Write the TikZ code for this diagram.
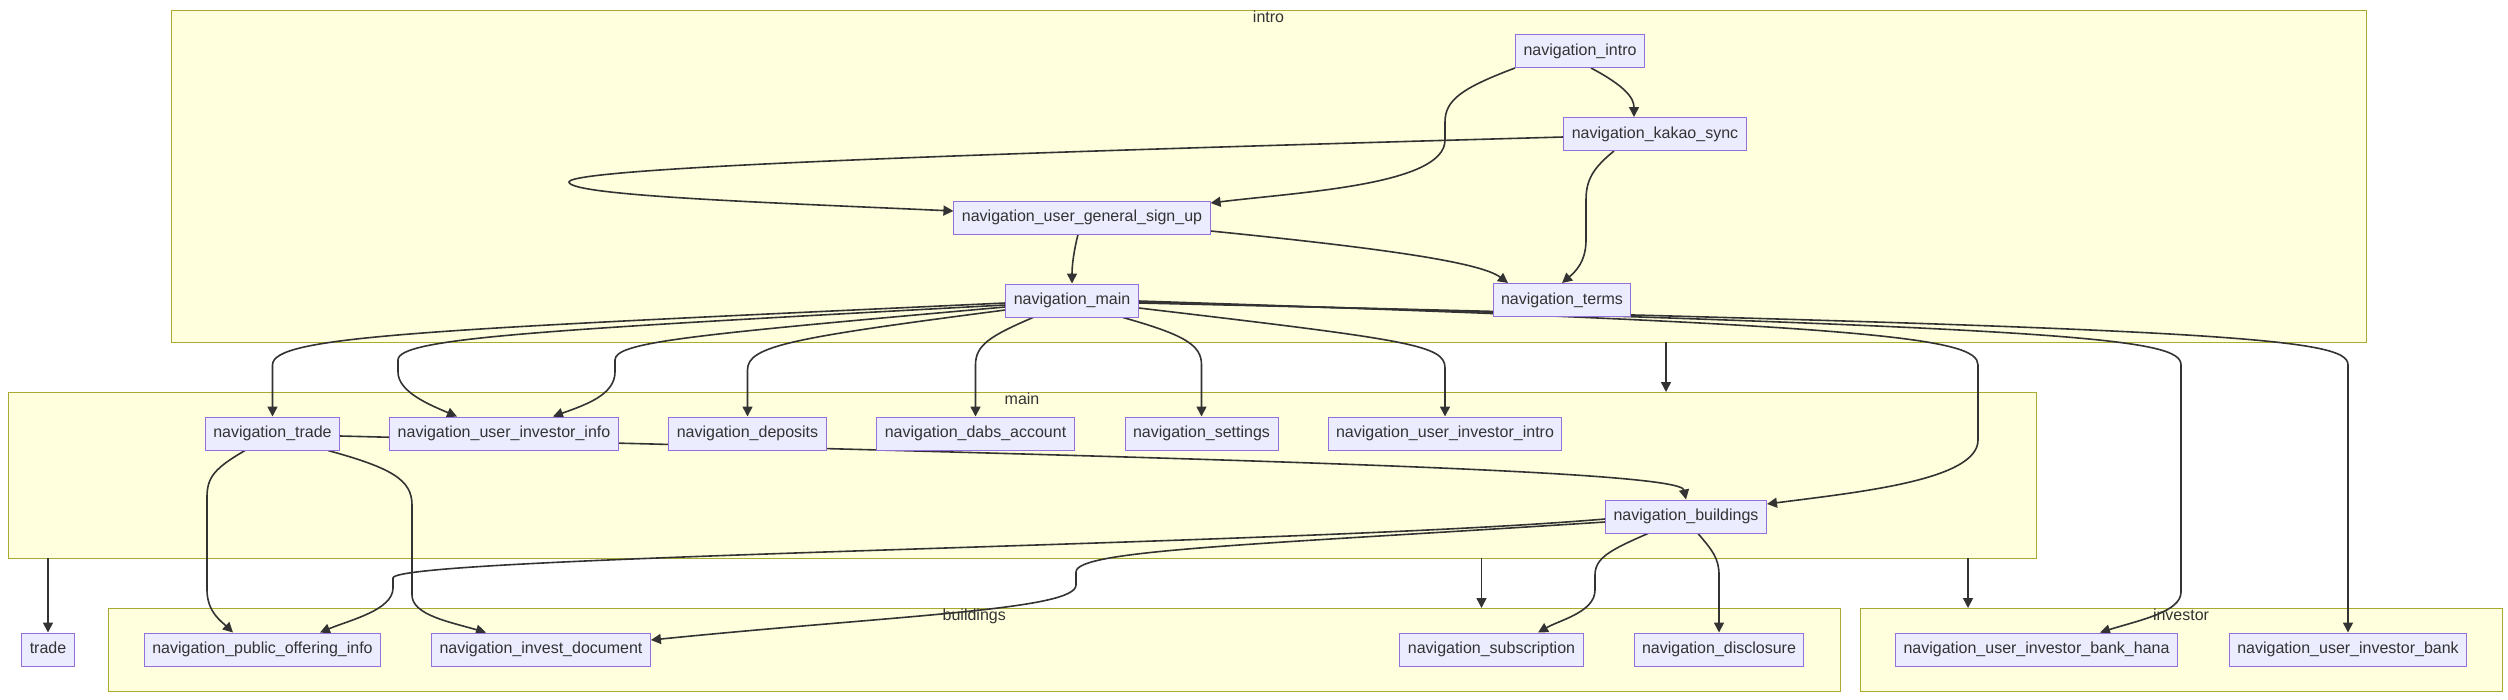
\documentclass[tikz,border=0pt]{standalone}
\usepackage{fontspec}
\setmainfont{Liberation Sans}
\usetikzlibrary{arrows.meta, calc}
\definecolor{ink}{HTML}{333333}
\definecolor{navfill}{HTML}{ECECFF}
\definecolor{navline}{HTML}{9370DB}
\definecolor{clusterfill}{HTML}{FFFFDE}
\definecolor{clusterline}{HTML}{AAAA33}
\pgfdeclarelayer{bg}
\pgfdeclarelayer{edges}
\pgfsetlayers{bg,edges,main}

\begin{document}
\begin{tikzpicture}[x=1pt, y=-1pt,
    navbox/.style={draw=navline, fill=navfill, line width=1pt, text=ink, font=\fontsize{16}{19}\selectfont,
      inner xsep=8pt, inner ysep=0pt, minimum height=33pt, text height=11.5pt, text depth=3.5pt},
    cluster/.style={draw=clusterline, fill=clusterfill, line width=1pt, inner sep=0pt, outer sep=0pt},
    clusterlabel/.style={anchor=base, text=ink, font=\fontsize{16}{19}\selectfont, inner sep=0pt},
    link/.style={draw=ink, line width=1.6pt, -{Triangle[length=10pt, width=10pt]}}]
  \useasboundingbox (0,0) rectangle (2508,699);
  \begin{pgfonlayer}{bg}
    \fill[white] (0,0) rectangle (2508,699);
    \node[cluster, minimum width=2195pt, minimum height=332pt] (introbox) at (1268.5,176) {};
    \node[cluster, minimum width=2028pt, minimum height=166pt] (mainbox) at (1022,475) {};
    \node[cluster, minimum width=1731.5pt, minimum height=83pt] (buildingsbox) at (974.25,649.5) {};
    \node[cluster, minimum width=642pt, minimum height=83pt] (investorbox) at (2181,649.5) {};
    \node[clusterlabel] (introlabel) at (1268.5,22) {intro};
    \node[clusterlabel] (mainlabel) at (1022,404) {main};
    \node[clusterlabel] (buildingslabel) at (974.25,620) {buildings};
    \node[clusterlabel] (investorlabel) at (2181,620) {investor};
  \end{pgfonlayer}

  \node[navbox] (intro) at (1580,51) {navigation\_intro};
  \node[navbox] (kakaosync) at (1655,134) {navigation\_kakao\_sync};
  \node[navbox] (signup) at (1082,217.5) {navigation\_user\_general\_sign\_up};
  \node[navbox] (navmain) at (1072,300.5) {navigation\_main};
  \node[navbox] (terms) at (1562,300) {navigation\_terms};

  \node[navbox] (trade) at (272.5,433.5) {navigation\_trade};
  \node[navbox] (investorinfo) at (504,433.5) {navigation\_user\_investor\_info};
  \node[navbox] (deposits) at (747.5,433.5) {navigation\_deposits};
  \node[navbox] (dabs) at (975.5,433.5) {navigation\_dabs\_account};
  \node[navbox] (settings) at (1201.5,433.5) {navigation\_settings};
  \node[navbox] (investorintro) at (1445,433.5) {navigation\_user\_investor\_intro};
  \node[navbox] (buildings) at (1686,516.5) {navigation\_buildings};

  \node[navbox] (tradeleaf) at (48,649.5) {trade};
  \node[navbox] (offering) at (262.5,649.5) {navigation\_public\_offering\_info};
  \node[navbox] (investdoc) at (541,649.5) {navigation\_invest\_document};
  \node[navbox] (subscription) at (1491.5,649.5) {navigation\_subscription};
  \node[navbox] (disclosure) at (1719,649.5) {navigation\_disclosure};
  \node[navbox] (bankhana) at (2036.5,649.5) {navigation\_user\_investor\_bank\_hana};
  \node[navbox] (bank) at (2348,649.5) {navigation\_user\_investor\_bank};

  \begin{pgfonlayer}{edges}
    \draw[link] ([xshift=11pt]intro.south) .. controls (1625,86) and (1634,98) .. ([xshift=-21pt]kakaosync.north);
    \draw[link] ([xshift=-65pt]intro.south) .. controls (1462,88) and (1445,100) .. (1445,122) -- (1445,140) .. controls (1445,185) and (1300,192) .. ([yshift=14.5pt]signup.east);
    \draw[link] ([yshift=-3pt]kakaosync.west) .. controls (1100,150) and (569,166) .. (569,182) .. controls (569,196) and (780,203) .. ([yshift=6.5pt]signup.west);
    \draw[link] ([xshift=-41pt]kakaosync.south) .. controls (1593,168) and (1586,180) .. (1586,200) -- (1586,240) .. controls (1586,262) and (1575,272) .. (terms.north);
    \draw[link] ([yshift=-13.5pt]signup.east) .. controls (1380,248) and (1480,262) .. ([xshift=-54pt]terms.north);
    \draw[link] ([xshift=-4pt]signup.south) .. controls (1074,250) and (1072,265) .. (navmain.north);

    \draw[link] ([yshift=-2.5pt]navmain.west) .. controls (420,330) and (272.5,336) .. (272.5,365) -- (trade.north);
    \draw[link] ([yshift=-4.5pt]navmain.west) .. controls (540,330) and (398,338) .. (398,360) -- (398,372) .. controls (398,392) and (430,405) .. ([xshift=-47pt]investorinfo.north);
    \draw[link] ([yshift=-6.5pt]navmain.west) .. controls (690,335) and (615,342) .. (615,360) -- (615,372) .. controls (615,395) and (585,405) .. ([xshift=49pt]investorinfo.north);
    \draw[link] ([yshift=-9.5pt]navmain.west) .. controls (790,338) and (747.5,346) .. (747.5,370) -- (deposits.north);
    \draw[link] ([xshift=-39pt]navmain.south) .. controls (990,336) and (975.5,345) .. (975.5,365) -- (dabs.north);
    \draw[link] ([xshift=51pt]navmain.south) .. controls (1185,335) and (1201.5,345) .. (1201.5,365) -- (settings.north);
    \draw[link] ([yshift=-7.5pt]navmain.east) .. controls (1410,340) and (1445,345) .. (1445,368) -- (investorintro.north);
    \draw[link] ([yshift=-0.5pt]navmain.east) .. controls (1880,325) and (1978,338) .. (1978,365) -- (1978,440) .. controls (1978,480) and (1860,492) .. ([yshift=12.5pt]buildings.east);
    \draw[link] ([yshift=-1.5pt]navmain.east) .. controls (2080,328) and (2181,338) .. (2181,365) -- (2181,592) .. controls (2181,612) and (2140,620) .. ([xshift=63.5pt]bankhana.north);
    \draw[link] ([yshift=-2.5pt]navmain.east) .. controls (2240,328) and (2348,338) .. (2348,365) -- (bank.north);

    \draw[link] ([yshift=-2.5pt]trade.east) .. controls (1200,458) and (1680,470) .. (buildings.north);
    \draw[link] ([xshift=-27.5pt]trade.south) .. controls (215,468) and (207,477) .. (207,497) -- (207,590) .. controls (207,612) and (222,622) .. ([xshift=-29.5pt]offering.north);
    \draw[link] ([xshift=55.5pt]trade.south) .. controls (392,468) and (412,480) .. (412,505) -- (412,595) .. controls (412,615) and (450,622) .. ([xshift=-55pt]investdoc.north);

    \draw[link] ([yshift=-2.5pt]buildings.west) .. controls (1300,545) and (393,556) .. (393,578) -- (393,588) .. controls (393,610) and (350,620) .. ([xshift=57.5pt]offering.north);
    \draw[link] ([yshift=-5.5pt]buildings.west) .. controls (1250,545) and (1076,550) .. (1076,572) -- (1076,585) .. controls (1076,610) and (900,615) .. ([yshift=9.5pt]investdoc.east);
    \draw[link] ([xshift=-38pt]buildings.south) .. controls (1610,550) and (1595,558) .. (1595,575) -- (1595,590) .. controls (1595,612) and (1560,620) .. ([xshift=46.5pt]subscription.north);
    \draw[link] ([xshift=12pt]buildings.south) .. controls (1712,550) and (1719,558) .. (1719,575) -- (disclosure.north);

    \draw[link] ([xshift=397.5pt]introbox.south) -- ([xshift=644pt]mainbox.north);
    \draw[link] ([xshift=-974pt]mainbox.south) -- (tradeleaf.north);
    \draw[link] ([xshift=459.5pt]mainbox.south) -- ([xshift=507.25pt]buildingsbox.north);
    \draw[link] ([xshift=946pt]mainbox.south) -- ([xshift=-213pt]investorbox.north);
  \end{pgfonlayer}
\end{tikzpicture}
\end{document}
